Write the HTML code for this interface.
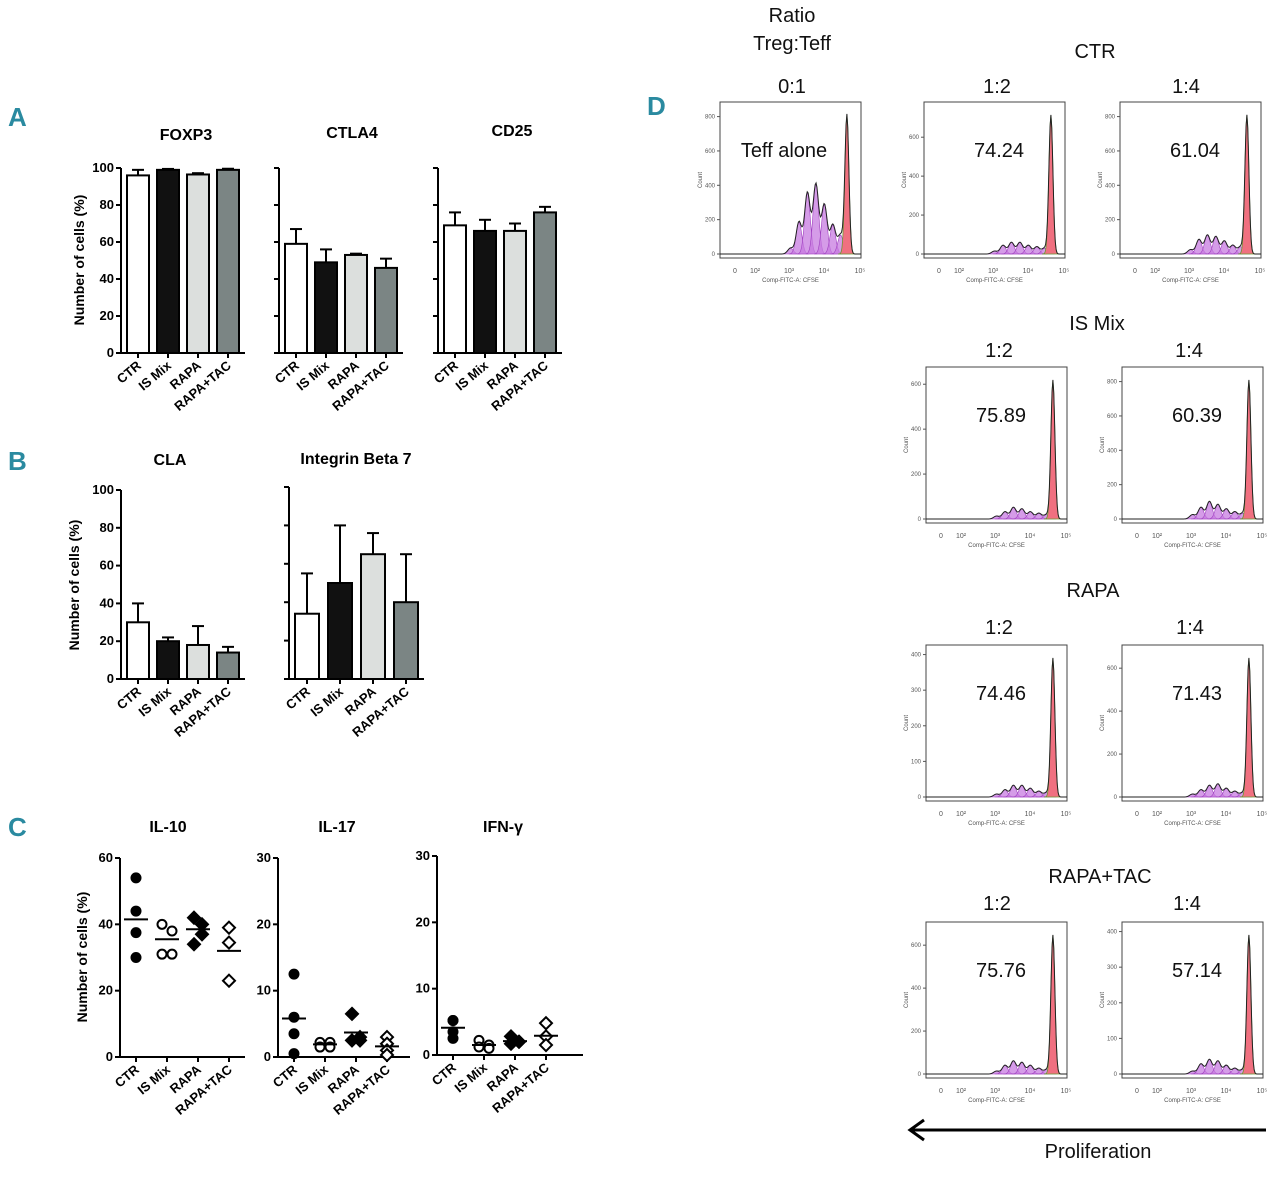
<!DOCTYPE html>
<html><head><meta charset="utf-8"><style>
html,body{margin:0;padding:0;background:#fff;width:1280px;height:1177px;overflow:hidden}
svg text{font-family:"Liberation Sans",sans-serif}
</style></head><body>
<svg id="fig" width="1280" height="1177" viewBox="0 0 1280 1177" xmlns="http://www.w3.org/2000/svg">
<g font-weight="bold" font-size="26" fill="#2a8aa0">
<text x="8" y="126">A</text>
<text x="8" y="470">B</text>
<text x="8" y="836">C</text>
<text x="647" y="115">D</text>
</g>
<g id="charts"></g>
<g font-size="20" fill="#111" text-anchor="middle">
<text x="792" y="22">Ratio</text>
<text x="792" y="50">Treg:Teff</text>
<text x="792" y="93">0:1</text>
<text x="1095" y="58">CTR</text>
<text x="997" y="93">1:2</text>
<text x="1186" y="93">1:4</text>
<text x="1097" y="330">IS Mix</text>
<text x="999" y="357">1:2</text>
<text x="1189" y="357">1:4</text>
<text x="1093" y="597">RAPA</text>
<text x="999" y="634">1:2</text>
<text x="1190" y="634">1:4</text>
<text x="1100" y="883">RAPA+TAC</text>
<text x="997" y="910">1:2</text>
<text x="1187" y="910">1:4</text>
<text x="1098" y="1158">Proliferation</text>
</g>
<g>
<line x1="912" y1="1130" x2="1266" y2="1130" stroke="#000" stroke-width="3"/>
<polyline points="924,1120 910,1130 924,1140" fill="none" stroke="#000" stroke-width="3"/>
</g>
<g id="hists"></g>
</svg>
<script>
const cats = ["CTR","IS Mix","RAPA","RAPA+TAC"];
const foxp3Vals = [96,99,96.5,99];
const foxp3Errs = [3,0.5,0.7,0.6];
const ctla4Vals = [59,49,53,46];
const ctla4Errs = [8,7,0.7,5];
const cd25Vals = [69,66,66,76];
const cd25Errs = [7,6,4,3];
const claVals = [30,20,18,14];
const claErrs = [10,2,10,3];
const itgVals = [34,50,65,40];
const itgErrs = [21,30,11,25];
const barTicks = [0,20,40,60,80,100];
const il10Pts = [[54,44,37.5,30],[40,38,31,31],[42,40,37,34],[39,34.5,23]];
const il10Means = [41.5,35.5,38.5,32];
const il17Pts = [[12.5,6,3.5,0.5],[2.2,2.2,1.5,1.5],[6.5,3,2.5,2.5],[3,2,1,0.3]];
const il17Means = [5.8,1.9,3.7,1.6];
const ifnPts = [[5.2,5.2,3.5,2.5],[2.2,1.5,1.2,1],[2.8,2,2,1.7],[4.8,2.8,1.5]];
const ifnMeans = [4.1,1.5,2.1,2.9];
const il10Ticks = [0,20,40,60];
const il17Ticks = [0,10,20,30];
const histLabels = ["Teff alone","74.24","61.04","75.89","60.39","74.46","71.43","75.76","57.14"];
const histPurple = [
 [0.04,0.22,0.42,0.48,0.34,0.2,0.13],
 [0.02,0.06,0.08,0.08,0.06,0.05,0.04],
 [0.03,0.1,0.13,0.12,0.09,0.06,0.05],
 [0.02,0.05,0.08,0.07,0.05,0.04,0.03],
 [0.03,0.08,0.12,0.1,0.07,0.05,0.04],
 [0.02,0.05,0.08,0.08,0.06,0.04,0.03],
 [0.02,0.05,0.08,0.09,0.06,0.04,0.03],
 [0.02,0.06,0.09,0.08,0.06,0.04,0.03],
 [0.02,0.07,0.1,0.09,0.06,0.04,0.03]];
const histRed = [0.95,0.95,0.95,0.95,0.95,0.95,0.95,0.95,0.95];
const histYTicks = [[0,200,400,600,800],[0,200,400,600],[0,200,400,600,800],[0,200,400,600],[0,200,400,600,800],[0,100,200,300,400],[0,200,400,600],[0,200,400,600],[0,100,200,300,400]];
const histYMax = [850,750,850,650,850,410,680,680,410];

const NS="http://www.w3.org/2000/svg";
const root=document.getElementById('charts');
function el(tag,attrs,parent){const e=document.createElementNS(NS,tag);for(const k in attrs)e.setAttribute(k,attrs[k]);(parent||root).appendChild(e);return e;}
function txt(s,attrs,parent){const e=el('text',attrs,parent);e.textContent=s;return e;}
const fills=["#ffffff","#111111","#dcdfdd","#7b8584"];

function axes(g,ax,base,top,max,ticks,showLabels,xEnd,centers){
  const y=v=>base-(base-top)*v/max;
  el('line',{x1:ax,y1:top,x2:ax,y2:base,stroke:'#000','stroke-width':2},g);
  el('line',{x1:ax,y1:base,x2:xEnd,y2:base,stroke:'#000','stroke-width':2},g);
  ticks.forEach(t=>{el('line',{x1:ax-5,y1:y(t),x2:ax,y2:y(t),stroke:'#000','stroke-width':2},g);
    if(showLabels){const l=txt(String(t),{x:ax-7,y:y(t)+4,'text-anchor':'end','font-size':13,'font-weight':'bold'},g);
    
    }});
  centers.forEach((c,i)=>{el('line',{x1:c,y1:base,x2:c,y2:base+5,stroke:'#000','stroke-width':2},g);
    const l=txt(cats[i],{x:c+4,y:base+14,'text-anchor':'end','font-size':13,'font-weight':'bold',transform:`rotate(-40 ${c+4} ${base+14})`},g);
    
    });
  return y;
}
function barChart(name,title,tx,ty,ax,base,top,vals,errs,showLabels,bw,gap){
  const g=el('g',{});
  
  
  const t=txt(title,{x:tx,y:ty,'text-anchor':'middle','font-size':16,'font-weight':'bold'},g);
  
  
  const centers=vals.map((v,i)=>ax+6+bw/2+i*gap);
  const y=axes(g,ax,base,top,100,barTicks,showLabels,ax+6+3*gap+bw+6,centers);
  vals.forEach((v,i)=>{const c=centers[i];
    const r=el('rect',{x:c-bw/2,y:y(v),width:bw,height:base-y(v),fill:fills[i],stroke:'#000','stroke-width':2},g);
    
    
    el('line',{x1:c,y1:y(v),x2:c,y2:y(v+errs[i]),stroke:'#000','stroke-width':2},g);
    el('line',{x1:c-6,y1:y(v+errs[i]),x2:c+6,y2:y(v+errs[i]),stroke:'#000','stroke-width':2},g);});
}
function ylab(x,y){const l=txt("Number of cells (%)",{x:x,y:y,'text-anchor':'middle','font-size':14,'font-weight':'bold',transform:`rotate(-90 ${x} ${y})`});
  
  }
barChart('foxp3-chart','FOXP3',186,140,121,353,168,foxp3Vals,foxp3Errs,true,22,30);
barChart('ctla4-chart','CTLA4',352,138,279,353,168,ctla4Vals,ctla4Errs,false,22,30);
barChart('cd25-chart','CD25',512,136,438,353,168,cd25Vals,cd25Errs,false,22,30);
ylab(84,260);
barChart('cla-chart','CLA',170,465,121,679,490,claVals,claErrs,true,22,30);
barChart('integrin-chart','Integrin Beta 7',356,464,289,679,487,itgVals,itgErrs,false,24,33);
ylab(79,585);

const jitter=[[0,0,0,0],[-5,5,-5,5],[-4,4,4,-4],[0,0,0,0]];
function dotChart(name,title,tx,ax,base,top,max,ticks,pts,means,xEnd,gap){
  const g=el('g',{});
  
  
  const t=txt(title,{x:tx,y:832,'text-anchor':'middle','font-size':16,'font-weight':'bold'},g);
  
  
  const centers=cats.map((c,i)=>ax+16+i*gap);
  const y=axes(g,ax,base,top,max,ticks,true,xEnd,centers);
  pts.forEach((arr,i)=>{const c=centers[i];
    arr.forEach((v,j)=>{
      const cx=c+jitter[i][j];
      let m;
      if(i<2){m=el('circle',{cx:cx,cy:y(v),r:4.5,fill:i===0?'#000':'#fff',stroke:'#000','stroke-width':2},g);}
      else{const yy=y(v);m=el('polygon',{points:`${cx},${yy-6} ${cx+6},${yy} ${cx},${yy+6} ${cx-6},${yy}`,fill:i===2?'#000':'#fff',stroke:'#000','stroke-width':2},g);}
      
      });
    const ml=el('line',{x1:c-12,y1:y(means[i]),x2:c+12,y2:y(means[i]),stroke:'#000','stroke-width':2},g);
    
    });
}
dotChart('il10-chart','IL-10',168,120,1057,858,60,il10Ticks,il10Pts,il10Means,245,31);
dotChart('il17-chart','IL-17',337,278,1057,858,30,il17Ticks,il17Pts,il17Means,410,31);
dotChart('ifng-chart','IFN-γ',503,437,1055,856,30,il17Ticks,ifnPts,ifnMeans,583,31);
ylab(87,957);

const H=document.getElementById('hists');
const boxes=[[720,102],[924,102],[1120,102],[926,367],[1122,367],[926,645],[1122,645],[926,922],[1122,922]];
boxes.forEach((b,k)=>{
  const [x0,y0]=b,w=141,h=156,base=y0+h-4;
  const g=el('g',{},H);
  
  
  el('rect',{x:x0,y:y0,width:w,height:h,fill:'#fff',stroke:'#444','stroke-width':1},g);
  const top=y0+6;
  const yv=v=>base-(base-top)*v/histYMax[k];
  histYTicks[k].forEach(t=>{el('line',{x1:x0-3,y1:yv(t),x2:x0,y2:yv(t),stroke:'#555'},g);
    txt(String(t),{x:x0-5,y:yv(t)+2,'text-anchor':'end','font-size':6,fill:'#555'},g);});
  txt('Count',{x:x0-18,y:y0+h/2,'font-size':6,fill:'#555','text-anchor':'middle',transform:`rotate(-90 ${x0-18} ${y0+h/2})`},g);
  ['0','10²','10³','10⁴','10⁵'].forEach((s,i)=>txt(s,{x:x0+15+[0,20,54,89,125][i],y:base+19,'font-size':7,fill:'#555','text-anchor':'middle'},g));
  txt('Comp-FITC-A: CFSE',{x:x0+w/2,y:base+28,'font-size':6,fill:'#555','text-anchor':'middle'},g);
  const ph=h-10;
  const pos=[0.5,0.56,0.62,0.68,0.74,0.8,0.855];
  const sp=0.028, sr=0.02, rc=0.9;
  let outline=`M${x0+2},${base}`;
  const N=160;
  const f=u=>{let s=0;histPurple[k].forEach((a,i)=>{s+=a*Math.exp(-Math.pow((u-pos[i])/sp,2));});
    s+=histRed[k]*Math.exp(-Math.pow((u-rc)/sr,2));return s;};
  for(let i=0;i<=N;i++){const u=i/N;outline+=` L${x0+u*w},${base-f(u)*ph}`;}
  histPurple[k].forEach((a,i)=>{let d=`M${x0+(pos[i]-0.07)*w},${base}`;
    for(let j=0;j<=24;j++){const u=pos[i]-0.07+0.14*j/24;d+=` L${x0+u*w},${base-a*ph*Math.exp(-Math.pow((u-pos[i])/sp,2))}`;}
    el('path',{d:d+'Z',fill:'#c77be0','fill-opacity':0.75,stroke:'#a040c0','stroke-width':0.6},g);});
  let r=`M${x0+(rc-0.06)*w},${base}`;
  for(let j=0;j<=24;j++){const u=rc-0.06+0.12*j/24;r+=` L${x0+u*w},${base-histRed[k]*ph*Math.exp(-Math.pow((u-rc)/sr,2))}`;}
  el('path',{d:r+'Z',fill:'#f07080',stroke:'#6a9a30','stroke-width':0.8},g);
  el('path',{d:outline,fill:'none',stroke:'#222','stroke-width':1},g);
  const lab=txt(histLabels[k],{x:k===0?x0+64:x0+75,y:y0+55,'text-anchor':'middle','font-size':20,fill:'#111'},g);
  
  
});
</script>
</body></html>
